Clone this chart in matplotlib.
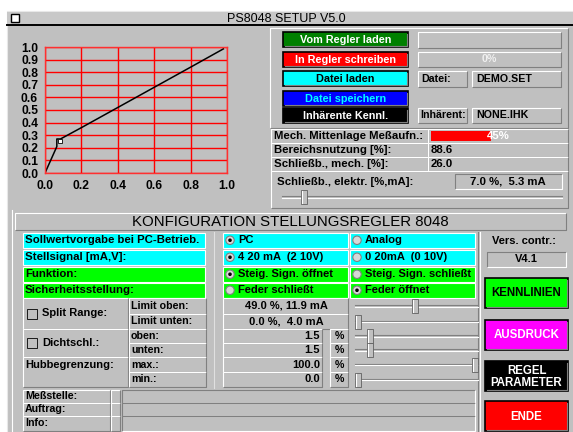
import matplotlib
matplotlib.use("Agg")
import matplotlib.pyplot as plt
from matplotlib.patches import Rectangle, Circle

W, H = 573, 432
BG = "#c0c0c0"
UI = "Liberation Sans"

# kennlinie
curve_x = [0.0, 0.065, 0.065, 0.085, 0.2, 0.4, 0.6, 0.8, 0.98]
curve_y = [0.0, 0.21, 0.27, 0.27, 0.36, 0.52, 0.68, 0.84, 0.985]
marker_x = [0.082]
marker_y = [0.255]
x_ticks = [0.0, 0.2, 0.4, 0.6, 0.8, 1.0]
y_ticks = [0.0, 0.1, 0.2, 0.3, 0.4, 0.5, 0.6, 0.7, 0.8, 0.9, 1.0]

title = "PS8048 SETUP V5.0"
header = "KONFIGURATION STELLUNGSREGLER 8048"

top_buttons = ["Vom Regler laden", "In Regler schreiben", "Datei laden",
               "Datei speichern", "Inhärente Kennl."]
top_btn_face = ["#008000", "#ff0000", "#00ffff", "#0000ff", "#000000"]
top_btn_text = ["white", "white", "black", "#00ffff", "white"]
progress_text = "0%"
datei_name = "DEMO.SET"
inherent_name = "NONE.IHK"

status_labels = ["Mech. Mittenlage Meßaufn.:", "Bereichsnutzung [%]:",
                 "Schließb., mech. [%]:"]
status_values = ["45%", "88.6", "26.0"]
mitten_pct = 45
elektr_label = "Schließb., elektr. [%,mA]:"
elektr_value = "7.0 %,  5.3 mA"
elektr_pct = 7.0

config_labels = ["Sollwertvorgabe bei PC-Betrieb.", "Stellsignal [mA,V]:",
                 "Funktion:", "Sicherheitsstellung:"]
config_opt1 = ["PC", "4 20 mA  (2 10V)", "Steig. Sign. öffnet", "Feder schließt"]
config_opt2 = ["Analog", "0 20mA  (0 10V)", "Steig. Sign. schließt", "Feder öffnet"]
config_sel = [1, 1, 1, 2]
config_face = ["#00ffff", "#00ffff", "#00ff00", "#00ff00"]

limit_labels = ["Limit oben:", "Limit unten:", "oben:", "unten:", "max.:", "min.:"]
limit_values = ["49.0 %, 11.9 mA", "0.0 %,  4.0 mA", "1.5", "1.5", "100.0", "0.0"]
limit_slider = [49.0, 0.0, 10.0, 10.0, 100.0, 0.0]
group_labels = ["Split Range:", "Dichtschl.:", "Hubbegrenzung:"]

bottom_labels = ["Meßstelle:", "Auftrag:", "Info:"]
version_label = "Vers. contr.:"
version_value = "V4.1"
side_buttons = ["KENNLINIEN", "AUSDRUCK", "REGEL\nPARAMETER", "ENDE"]
side_face = ["#00ff00", "#ff00ff", "#000000", "#ff0000"]
side_text = ["black", "white", "white", "white"]


fig = plt.figure(figsize=(W / 100, H / 100), dpi=100, facecolor="white")
ui = fig.add_axes([0, 0, 1, 1])
ui.set_xlim(0, W)
ui.set_ylim(H, 0)
ui.axis("off")


def rect(x0, y0, x1, y1, fc, ec="none", lw=0.8, z=1):
    ui.add_patch(Rectangle((x0, y0), x1 - x0, y1 - y0, facecolor=fc,
                           edgecolor=ec, linewidth=lw, zorder=z))


def bevel(x0, y0, x1, y1, sunken=False, z=2):
    light, dark = ("#808080", "white") if sunken else ("white", "#808080")
    ui.plot([x0, x0, x1], [y1, y0, y0], color=light, lw=0.8, zorder=z,
            solid_capstyle="butt")
    ui.plot([x0, x1, x1], [y1, y1, y0], color=dark, lw=0.8, zorder=z,
            solid_capstyle="butt")


def cell(x0, y0, x1, y1, fc=BG, sunken=False):
    rect(x0, y0, x1, y1, fc)
    bevel(x0, y0, x1, y1, sunken)


def label(x, y, s, size=7.7, ha="left", color="black", weight="bold", **kw):
    ui.text(x, y, s, fontsize=size, ha=ha, va="center", color=color,
            fontweight=weight, family=UI, zorder=5, **kw)


def button(x0, y0, x1, y1, s, fc, tc, size=7.8):
    rect(x0, y0, x1, y1, fc, ec="black", lw=1.2, z=2)
    ui.plot([x0 + 1.5, x1 - 1.5, x1 - 1.5], [y1 - 1.5, y1 - 1.5, y0 + 1.5],
            color="#808080", lw=0.8, zorder=3)
    ui.text((x0 + x1) / 2, (y0 + y1) / 2 + 0.5, s, fontsize=size, ha="center",
            va="center", color=tc, fontweight="bold", family=UI, zorder=5,
            linespacing=1.0)


def slider(x0, x1, y, pct):
    ui.plot([x0, x1], [y - 0.6, y - 0.6], color="#808080", lw=0.8, zorder=2)
    ui.plot([x0, x1], [y + 0.6, y + 0.6], color="white", lw=0.8, zorder=2)
    tx = x0 + (x1 - x0 - 6) * pct / 100
    rect(tx, y - 7, tx + 6, y + 7, BG, ec="#606060", lw=0.6, z=3)
    ui.plot([tx + 1, tx + 1], [y - 6, y + 6], color="white", lw=0.8, zorder=4)


def radio(x, y, on):
    ui.add_patch(Circle((x, y), 4.2, facecolor="#d8d8d8", edgecolor="#808080",
                        linewidth=0.8, zorder=3))
    if on:
        ui.add_patch(Circle((x, y), 1.8, facecolor="black", zorder=4))


# window + title bar
rect(7, 11, W + 1, H + 1, BG, ec="#e8e8e8", lw=0.8)
rect(7, 12, W + 1, 25, "#c8c8c8")
ui.plot([7, W], [25, 25], color="black", lw=1.4, zorder=3)
rect(11, 14, 19, 22, "white", ec="black", lw=1.0, z=3)
ui.text(286, 18.5, title, fontsize=9, ha="center", va="center", family=UI, zorder=5)

# chart
ax = fig.add_axes([45 / W, 1 - 173 / H, 182 / W, 126 / H])
ax.set_facecolor(BG)
ax.plot(curve_x, curve_y, color="black", lw=1.1)
ax.plot(marker_x, marker_y, "s", ms=3.5, mfc="white", mec="black", mew=0.6)
ax.set_xlim(0, 1)
ax.set_ylim(0, 1)
ax.set_xticks(x_ticks)
ax.set_yticks(y_ticks)
ax.set_xticklabels([f"{v:.1f}" for v in x_ticks])
ax.set_yticklabels([f"{v:.1f}" for v in y_ticks])
ax.grid(True, color="#ff0000", lw=1.0)
ax.tick_params(length=0, pad=5, labelsize=8.7)
for t in ax.get_xticklabels() + ax.get_yticklabels():
    t.set_fontweight("bold")
    t.set_family(UI)
for sp in ax.spines.values():
    sp.set_color("#ff3030")
    sp.set_linewidth(1.0)

# top right panel
bevel(270, 28, 568, 128)
by = [32, 52, 71, 91, 108]
for i, s in enumerate(top_buttons):
    button(283, by[i], 408, by[i] + 15, s, top_btn_face[i], top_btn_text[i])
cell(418, 32, 561, 48, sunken=False)
cell(418, 52, 561, 67)
label(489, 59.5, progress_text, ha="center", color="#f0f0f0")
cell(418, 71, 467, 87)
label(421, 79, "Datei:")
cell(472, 71, 561, 87)
label(476, 79, datei_name)
cell(418, 108, 467, 123)
label(420, 115.5, "Inhärent:")
cell(472, 108, 561, 123)
label(476, 115.5, inherent_name)

# status rows
sy = [129, 143, 157]
for i, s in enumerate(status_labels):
    cell(271, sy[i], 428, sy[i] + 13.5)
    label(274, sy[i] + 7, s, size=8.2)
    cell(428, sy[i], 568, sy[i] + 13.5)
    if i == 0:
        rect(431, sy[i] + 2, 431 + (565 - 431) * mitten_pct / 100, sy[i] + 12,
             "#ff0000", z=3)
        label(498, sy[i] + 7, status_values[i], ha="center", color="white", size=8.2)
    else:
        label(431, sy[i] + 7, status_values[i], size=8.2)
cell(271, 171, 568, 208)
label(277, 182, elektr_label, size=8.2)
cell(455, 174, 562, 189, sunken=True)
label(508, 182, elektr_value, ha="center", size=8.2)
slider(282, 562, 197, elektr_pct)

# config header
cell(15, 213, 566, 230)
ui.text(290, 221.5, header, fontsize=10.8, ha="center", va="center", family=UI, zorder=5)
ui.plot([12, 12], [210, H], color="white", lw=0.8)
ui.plot([478, 478], [232, H], color="#808080", lw=0.8)
ui.plot([480, 480], [232, H], color="white", lw=0.8)
ui.plot([214, 214], [232, 388], color="#e0e0e0", lw=0.8)

ry = [233, 250, 267, 283]
for i, s in enumerate(config_labels):
    y0, y1 = ry[i], ry[i] + 14.5
    yc = (y0 + y1) / 2
    rect(23, y0, 205, y1, config_face[i], ec="white", lw=0.8)
    label(25, yc, s, size=8.2)
    rect(223, y0, 348, y1, config_face[i], ec="white", lw=0.8)
    radio(230, yc, config_sel[i] == 1)
    label(238, yc, config_opt1[i], size=8)
    rect(350, y0, 475, y1, config_face[i], ec="white", lw=0.8)
    radio(357, yc, config_sel[i] == 2)
    label(365, yc, config_opt2[i], size=8)

# limits
ly = [298, 314, 329, 343, 357, 372, 387]
cell(23, 298, 128, 329)
cell(23, 329, 128, 357)
cell(23, 357, 128, 387)
for k, yc in enumerate([313.5, 343]):
    rect(27, yc - 5, 37, yc + 5, BG, ec="black", lw=0.6, z=3)
    bevel(28, yc - 4, 36, yc + 4)
    label(42, yc, group_labels[k], size=8)
label(25, 365, group_labels[2], size=8)
for i, s in enumerate(limit_labels):
    y0, y1 = ly[i], ly[i + 1]
    yc = (y0 + y1) / 2
    cell(129, y0, 206, y1)
    label(131, yc, s)
    if i < 2:
        cell(223, y0, 348, y1)
        label(286, yc, limit_values[i], ha="center", size=8)
    else:
        cell(223, y0, 322, y1)
        label(320, yc, limit_values[i], ha="right", size=8)
        cell(330, y0, 348, y1)
        label(339, yc, "%", ha="center")
    slider(355, 478, yc, limit_slider[i])

# bottom fields
fy = [390, 402.5, 416, 431]
for i, s in enumerate(bottom_labels):
    cell(23, fy[i], 110, fy[i + 1])
    label(25, (fy[i] + fy[i + 1]) / 2, s)
    cell(111, fy[i], 120, fy[i + 1])
    cell(122, fy[i], 475, fy[i + 1], sunken=True)

# right column
label(524, 241, version_label, ha="center", size=8)
cell(487, 252, 566, 267, sunken=True)
label(526, 259.5, version_value, ha="center", size=8)
sby = [278, 320, 361, 401]
for i, s in enumerate(side_buttons):
    button(485, sby[i], 568, sby[i] + 30, s, side_face[i], side_text[i], size=8.3)

fig.savefig("out.png", dpi=100, facecolor="white")
